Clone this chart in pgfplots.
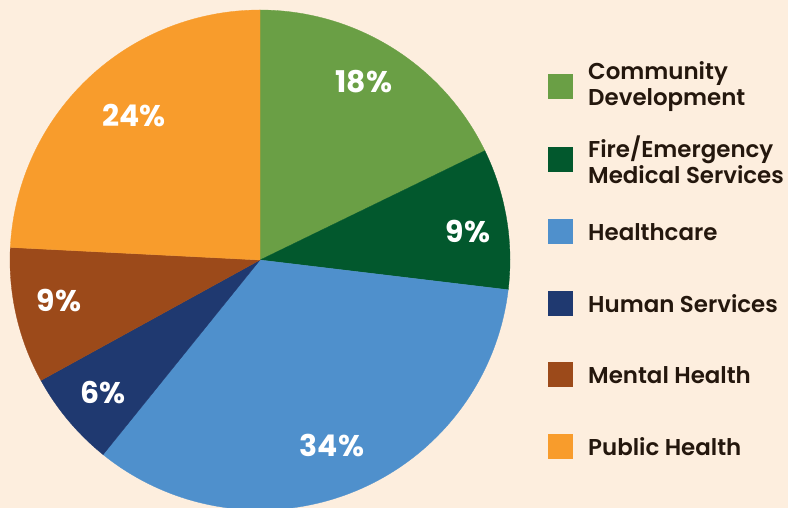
\documentclass[border=0pt]{standalone}
\usepackage{pgfplots}
\pgfplotsset{compat=1.18}
\usepackage{fontspec}
\setmainfont{Poppins}
\newfontfamily\semib{Poppins SemiBold}
\definecolor{bgc}{HTML}{FDEEDE}
\definecolor{cCom}{HTML}{6A9F45}
\definecolor{cFire}{HTML}{02582D}
\definecolor{cHealth}{HTML}{4F90CC}
\definecolor{cHuman}{HTML}{1F3970}
\definecolor{cMental}{HTML}{9C4A1A}
\definecolor{cPublic}{HTML}{F89C2C}
\definecolor{txt}{HTML}{24170D}
% slice: colour, cumulative start (%), value (%)
\newcommand{\slice}[3]{%
  \addplot[fill=#1, draw=#1, line width=0.3bp, domain={90-3.6*(#2+#3)}:{90-3.6*(#2)}, samples=90, variable=\t]
    ({260+250*cos(\t)},{248+250*sin(\t)}) -- (axis cs:260,248) -- cycle;}
\newcommand{\pct}[3]{\node[text=white, font=\fontsize{30}{33}\selectfont\bfseries, inner sep=0pt] at (axis cs:#1,#2) {#3};}
\newcommand{\leg}[3]{%
  \fill[#1] (axis cs:548,{#2-12.5}) rectangle (axis cs:573,{#2+12.5});
  \node[anchor=west, inner sep=0pt, align=left, text=txt, font=\semib\fontsize{23}{26}\selectfont] at (axis cs:588,#2) {#3};}
\begin{document}
\begin{tikzpicture}
\useasboundingbox (0,0) rectangle (788bp,508bp);
\fill[bgc] (0,0) rectangle (788bp,508bp);
\begin{axis}[at={(0,0)}, anchor=south west, width=788bp, height=508bp, scale only axis,
  xmin=0, xmax=788, ymin=0, ymax=508, hide axis, clip=false]
\slice{cCom}{0}{17.8}
\slice{cFire}{17.8}{9.1}
\slice{cHealth}{26.9}{33.9}
\slice{cHuman}{60.8}{6.2}
\slice{cMental}{67.0}{8.8}
\slice{cPublic}{75.8}{24.2}
\pct{364}{426}{18\%}
\pct{468}{276}{9\%}
\pct{332}{62}{34\%}
\pct{103}{115}{6\%}
\pct{59}{207}{9\%}
\pct{134}{392}{24\%}
\leg{cCom}{421}{Community\\Development}
\leg{cFire}{348}{Fire/Emergency\\Medical Services}
\leg{cHealth}{276}{Healthcare}
\leg{cHuman}{204}{Human Services}
\leg{cMental}{133}{Mental Health}
\leg{cPublic}{61}{Public Health}
\end{axis}
\end{tikzpicture}
\end{document}
